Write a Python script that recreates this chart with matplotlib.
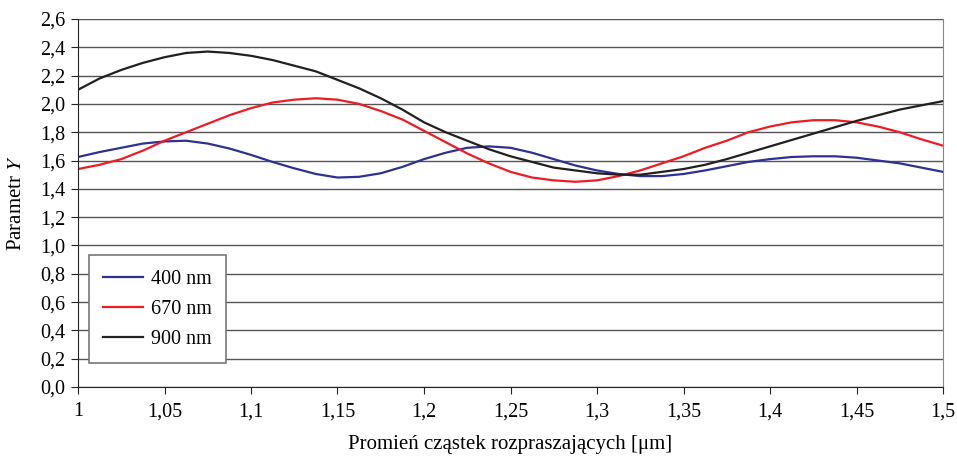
import matplotlib
matplotlib.use("Agg")
import matplotlib.pyplot as plt
from matplotlib.ticker import FuncFormatter, MultipleLocator

plt.rcParams['font.family'] = ['Liberation Serif', 'DejaVu Serif']
plt.rcParams['mathtext.fontset'] = 'stix'

x = [1.000, 1.0125, 1.025, 1.0375, 1.050, 1.0625, 1.075, 1.0875, 1.100, 1.1125, 1.125, 1.1375,
     1.150, 1.1625, 1.175, 1.1875, 1.200, 1.2125, 1.225, 1.2375, 1.250, 1.2625, 1.275, 1.2875,
     1.300, 1.3125, 1.325, 1.3375, 1.350, 1.3625, 1.375, 1.3875, 1.400, 1.4125, 1.425, 1.4375,
     1.450, 1.4625, 1.475, 1.4875, 1.500]

y400 = [1.625, 1.66, 1.69, 1.72, 1.735, 1.74, 1.72, 1.685, 1.64, 1.59, 1.545, 1.505,
        1.48, 1.485, 1.51, 1.555, 1.61, 1.655, 1.69, 1.70, 1.69, 1.655, 1.61, 1.565,
        1.53, 1.505, 1.49, 1.49, 1.505, 1.53, 1.56, 1.59, 1.61, 1.625, 1.63, 1.63,
        1.62, 1.60, 1.58, 1.55, 1.52]

y670 = [1.54, 1.57, 1.61, 1.67, 1.74, 1.80, 1.86, 1.92, 1.97, 2.01, 2.03, 2.04,
        2.03, 2.00, 1.95, 1.89, 1.81, 1.73, 1.65, 1.58, 1.52, 1.48, 1.46, 1.45,
        1.46, 1.49, 1.53, 1.58, 1.63, 1.69, 1.74, 1.80, 1.84, 1.87, 1.885, 1.885,
        1.87, 1.84, 1.80, 1.75, 1.705]

y900 = [2.10, 2.18, 2.24, 2.29, 2.33, 2.36, 2.37, 2.36, 2.34, 2.31, 2.27, 2.23,
        2.17, 2.11, 2.04, 1.96, 1.87, 1.80, 1.74, 1.68, 1.63, 1.59, 1.55, 1.53,
        1.51, 1.50, 1.50, 1.52, 1.54, 1.57, 1.61, 1.655, 1.70, 1.745, 1.79, 1.835,
        1.88, 1.92, 1.96, 1.99, 2.02]

labels = ["400 nm", "670 nm", "900 nm"]
colors = ["#2e3192", "#ed1c24", "#231f20"]

fig = plt.figure(figsize=(9.57, 4.57), dpi=100)
ax = fig.add_axes([78/957, 70/457, 865/957, 368/457])

for ys, lab, c in zip([y400, y670, y900], labels, colors):
    ax.plot(x, ys, color=c, lw=1.6, label=lab, solid_joinstyle='round')

ax.set_xlim(1.0, 1.5)
ax.set_ylim(0, 2.6)
ax.xaxis.set_major_locator(MultipleLocator(0.05))
ax.yaxis.set_major_locator(MultipleLocator(0.2))

def xfmt(v, pos):
    s = f"{v:.2f}".rstrip('0').rstrip('.')
    return s.replace('.', ',')

ax.xaxis.set_major_formatter(FuncFormatter(xfmt))
ax.yaxis.set_major_formatter(FuncFormatter(lambda v, p: f"{v:.1f}".replace('.', ',')))

ax.grid(axis='y', color='#555555', lw=1)
ax.set_axisbelow(True)
ax.spines['top'].set_visible(False)
ax.spines['right'].set_color('#888888')
ax.spines['left'].set_color('#222222')
ax.spines['bottom'].set_color('#222222')
ax.tick_params(axis='both', labelsize=14.5, direction='out', length=5, color='#222222')
ax.tick_params(axis='y', pad=4)
ax.tick_params(axis='x', pad=6)

ax.set_xlabel("Promień cząstek rozpraszających [μm]", fontsize=15, labelpad=10)
ax.set_ylabel("Parametr $Y$", fontsize=15, labelpad=10)

leg = ax.legend(loc='lower left', bbox_to_anchor=(0.0127, 0.065), fontsize=14.5,
                frameon=True, fancybox=False, edgecolor='#777777', framealpha=1,
                handlelength=2.0, borderpad=0.7, labelspacing=0.55, handletextpad=0.4,
                borderaxespad=0)
leg.get_frame().set_linewidth(1.2)

fig.savefig("out.png", dpi=100)
